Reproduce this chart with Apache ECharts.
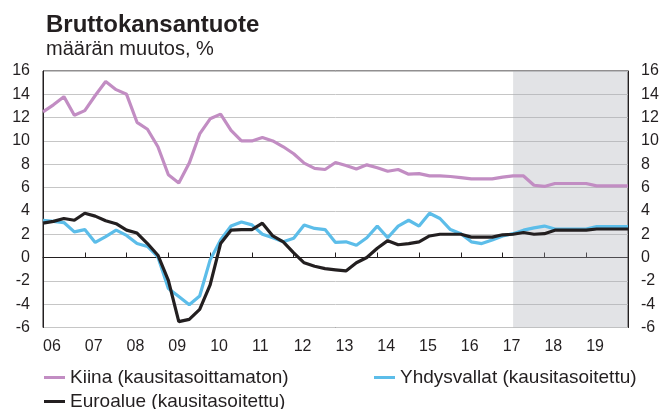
<!DOCTYPE html>
<html>
<head>
<meta charset="utf-8">
<script src="https://cdn.jsdelivr.net/npm/echarts@6/dist/echarts.min.js"></script>
<style>
html,body{margin:0;padding:0;background:#fff;}
#c{width:665px;height:409px;}
</style>
</head>
<body>
<div id="c"></div>
<script>
// Quarter categories 2005Q4 .. 2019Q4
var categories = ['2005Q4',
 '2006Q1','2006Q2','2006Q3','2006Q4','2007Q1','2007Q2','2007Q3','2007Q4',
 '2008Q1','2008Q2','2008Q3','2008Q4','2009Q1','2009Q2','2009Q3','2009Q4',
 '2010Q1','2010Q2','2010Q3','2010Q4','2011Q1','2011Q2','2011Q3','2011Q4',
 '2012Q1','2012Q2','2012Q3','2012Q4','2013Q1','2013Q2','2013Q3','2013Q4',
 '2014Q1','2014Q2','2014Q3','2014Q4','2015Q1','2015Q2','2015Q3','2015Q4',
 '2016Q1','2016Q2','2016Q3','2016Q4','2017Q1','2017Q2','2017Q3','2017Q4',
 '2018Q1','2018Q2','2018Q3','2018Q4','2019Q1','2019Q2','2019Q3','2019Q4'];

var yearLabels = ['06','07','08','09','10','11','12','13','14','15','16','17','18','19'];
var yTicks = [-6,-4,-2,0,2,4,6,8,10,12,14,16];

var seriesNames = ['Kiina (kausitasoittamaton)','Yhdysvallat (kausitasoitettu)','Euroalue (kausitasoitettu)'];

var china = [12.5,13.1,13.8,12.2,12.6,13.9,15.1,14.4,14.0,11.6,11.0,9.5,7.1,6.4,8.1,10.6,11.9,12.3,10.9,10.0,10.0,10.3,10.0,9.5,8.9,8.1,7.65,7.55,8.15,7.9,7.6,7.95,7.7,7.4,7.55,7.15,7.2,7.0,7.0,6.95,6.85,6.75,6.75,6.75,6.9,7.0,7.0,6.2,6.1,6.35,6.35,6.35,6.35,6.15,6.15,6.15,6.15];

var usa = [3.2,3.1,3.0,2.2,2.4,1.3,1.8,2.35,1.9,1.2,0.95,0.05,-2.65,-3.35,-4.05,-3.3,-0.2,1.5,2.7,3.05,2.8,2.0,1.7,1.35,1.65,2.8,2.5,2.4,1.3,1.35,1.05,1.7,2.7,1.7,2.7,3.2,2.7,3.8,3.35,2.4,2.05,1.35,1.2,1.5,1.85,2.05,2.35,2.55,2.7,2.45,2.45,2.45,2.45,2.65,2.65,2.65,2.65];

var euro = [2.95,3.1,3.35,3.2,3.8,3.55,3.15,2.9,2.35,2.1,1.2,0.2,-1.95,-5.5,-5.3,-4.45,-2.35,1.2,2.35,2.4,2.4,2.95,1.85,1.35,0.4,-0.45,-0.75,-0.95,-1.05,-1.15,-0.45,0.0,0.8,1.45,1.1,1.2,1.35,1.85,2.0,2.0,2.0,1.75,1.75,1.75,1.95,2.0,2.15,2.0,2.05,2.35,2.35,2.35,2.35,2.45,2.45,2.45,2.45];

var forecastStart = '2017Q1';
var forecastEnd = '2019Q4';

var colors = ['#c28dc3','#5cbde9','#231f20'];

var chart = echarts.init(document.getElementById('c'), null, {renderer:'canvas'});
var fontFam = 'Liberation Sans, Arial, sans-serif';
var txt = '#231f20';

function legendAt(name, left, top){
  return {data:[name],left:left,top:top,padding:0,icon:'rect',itemWidth:21,itemHeight:3,itemGap:0,
    textStyle:{fontFamily:fontFam,fontSize:19,color:txt,padding:[0,0,0,0]}};
}

var option = {
  animation:false,
  backgroundColor:'#ffffff',
  title:{
    text:'Bruttokansantuote',
    subtext:'määrän muutos, %',
    left:41, top:8,
    itemGap:2,
    textStyle:{fontFamily:fontFam,fontSize:24,fontWeight:'bold',color:txt},
    subtextStyle:{fontFamily:fontFam,fontSize:20,color:txt}
  },
  grid:{left:43,right:37,top:71,bottom:81.5,show:true,borderColor:txt,borderWidth:1,backgroundColor:'transparent'},
  legend:[
    legendAt(seriesNames[0],44,368),
    legendAt(seriesNames[1],374,368),
    legendAt(seriesNames[2],44,392)
  ],
  xAxis:{
    type:'category',
    data:categories,
    boundaryGap:false,
    axisLine:{show:true,lineStyle:{color:txt,width:1}},
    axisTick:{show:true,inside:true,length:5,lineStyle:{color:txt},interval:function(i){return i%4===0;}},
    axisLabel:{
      interval:function(i){return i%4===0;},
      align:'left',
      margin:11,
      fontFamily:fontFam,fontSize:16,color:txt,
      formatter:function(v,i){var k=i/4;return yearLabels[k]!==undefined?yearLabels[k]:'';}
    },
    splitLine:{show:false}
  },
  yAxis:[
    {type:'value',min:yTicks[0],max:yTicks[yTicks.length-1],interval:2,position:'left',
     axisLine:{show:true,lineStyle:{color:txt}},axisTick:{show:false},
     axisLabel:{margin:13,fontFamily:fontFam,fontSize:16,color:txt},
     splitLine:{show:true,lineStyle:{color:'#c6c6c6',width:1}}},
    {type:'value',min:yTicks[0],max:yTicks[yTicks.length-1],interval:2,position:'right',
     axisLine:{show:true,lineStyle:{color:txt}},axisTick:{show:false},
     axisLabel:{margin:13,fontFamily:fontFam,fontSize:16,color:txt},
     splitLine:{show:false}}
  ],
  series:[
    {name:'shade',type:'line',data:[],silent:true,
     markArea:{silent:true,itemStyle:{color:'rgba(166,170,178,0.33)'},
       data:[[{xAxis:forecastStart},{xAxis:forecastEnd}]]}},
    {name:seriesNames[0],type:'line',data:china,symbol:'none',z:3,
     lineStyle:{color:colors[0],width:3.2},itemStyle:{color:colors[0]}},
    {name:seriesNames[1],type:'line',data:usa,symbol:'none',z:4,
     lineStyle:{color:colors[1],width:3.2},itemStyle:{color:colors[1]}},
    {name:seriesNames[2],type:'line',data:euro,symbol:'none',z:5,
     lineStyle:{color:colors[2],width:3.2},itemStyle:{color:colors[2]}}
  ]
};
chart.setOption(option);
</script>
</body>
</html>
